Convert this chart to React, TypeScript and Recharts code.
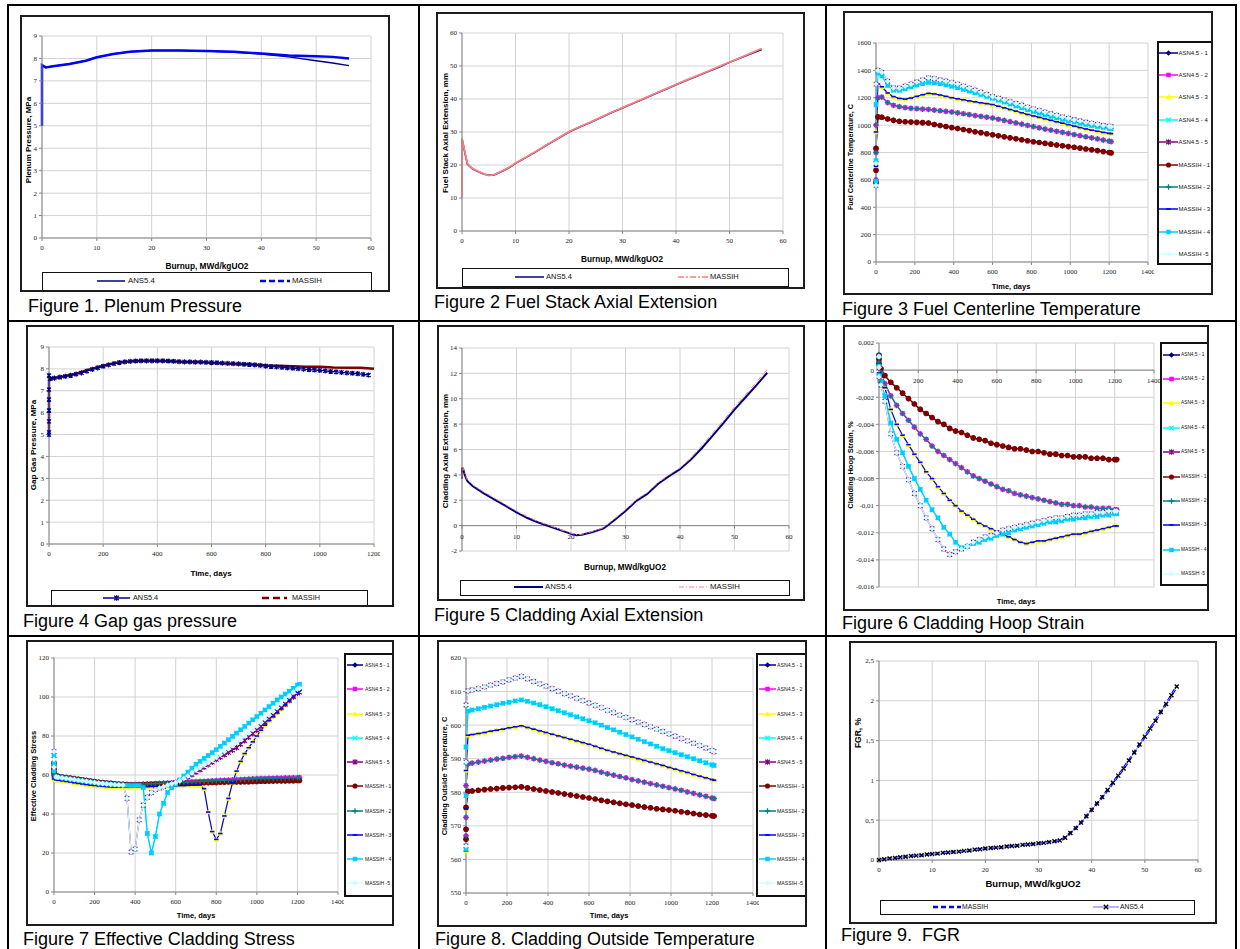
import { Fragment } from 'react'
import { LineChart, Line, XAxis, YAxis, CartesianGrid, ReferenceLine } from 'recharts'

// Figure 1 – plenum pressure vs burnup
const burnup1 = [0, 0, 0.7, 2, 5, 8, 10, 13, 16, 20, 25, 30, 35, 40, 45, 50, 53, 56]
const plenumAns = [5, 7.7, 7.6, 7.65, 7.75, 7.9, 8.05, 8.2, 8.3, 8.35, 8.35, 8.33, 8.28, 8.2, 8.07, 7.9, 7.8, 7.68]
const plenumMassih = [5, 7.7, 7.6, 7.65, 7.75, 7.9, 8.05, 8.2, 8.3, 8.35, 8.35, 8.33, 8.3, 8.22, 8.13, 8.1, 8.07, 8.0]

// Figure 2 – fuel stack axial extension
const burnup2 = [0, 0, 0.2, 0.5, 1, 1.5, 2, 3, 4, 5, 6, 7, 8, 9, 10, 12, 14, 16, 18, 20, 22, 24, 26, 28, 30, 32, 34, 36, 38, 40, 42, 44, 46, 48, 50, 52, 54, 56]
const stackAns = [27.8, 27.8, 26.5, 24, 20.3, 19.5, 18.8, 18, 17.3, 16.9, 17, 17.7, 18.5, 19.4, 20.5,
  22.3, 24.2, 26.2, 28.1, 30, 31.5, 32.9, 34.4, 35.9, 37.3, 38.7, 40.1, 41.5, 42.9, 44.3, 45.7, 47, 48.3, 49.6, 51.1, 52.4, 53.7, 55]
const stackMassih = [10, 28, 26.6, 24.2, 20.5, 19.6, 18.9, 18.1, 17.4, 16.8, 17.1, 17.8, 18.6, 19.5, 20.6,
  22.4, 24.3, 26.3, 28.2, 30.1, 31.6, 33, 34.5, 36, 37.4, 38.8, 40.2, 41.6, 43, 44.4, 45.8, 47.1, 48.4, 49.8, 51.2, 52.5, 53.9, 55.3]

// Figure 4 – gap gas pressure vs time
const days4 = [0, 0, 0, 0, 0, 0, 0, 5,
  20, 40, 60, 80, 100, 120, 140, 160, 180, 200,
  220, 240, 260, 280, 300, 320, 340, 360, 380, 400,
  420, 440, 460, 480, 500, 520, 540, 560, 580, 600,
  620, 640, 660, 680, 700, 720, 740, 760, 780, 800,
  820, 840, 860, 880, 900, 920, 940, 960, 980, 1000,
  1020, 1040, 1060, 1080, 1100, 1120, 1140, 1160, 1180]
const gapAns = [5.0, 5.1, 5.6, 6.1, 6.6, 7.05, 7.7, 7.55,
  7.58, 7.62, 7.66, 7.7, 7.76, 7.82, 7.9, 7.98, 8.05, 8.12,
  8.18, 8.24, 8.29, 8.32, 8.34, 8.36, 8.37, 8.37, 8.37, 8.37,
  8.37, 8.36, 8.35, 8.33, 8.32, 8.32, 8.31, 8.31, 8.3, 8.29,
  8.28, 8.26, 8.25, 8.24, 8.23, 8.21, 8.2, 8.18, 8.16, 8.13,
  8.11, 8.09, 8.07, 8.05, 8.03, 8.01, 7.99, 7.97, 7.95, 7.93,
  7.91, 7.88, 7.86, 7.84, 7.82, 7.8, 7.78, 7.75, 7.72]
const days4m = [0, 0, 5, 50, 100, 150, 200, 250, 300, 350, 400, 450, 500, 550, 600, 650, 700, 750, 800, 850, 900, 950, 1000, 1050, 1100, 1150, 1200]
const gapMassih = [5.0, 7.6, 7.55, 7.65, 7.78, 7.98, 8.15, 8.28, 8.35, 8.37, 8.37, 8.35, 8.32, 8.32, 8.28, 8.25, 8.22, 8.2, 8.15, 8.14, 8.12, 8.1, 8.1, 8.06, 8.05, 8.05, 8.01]

// Figure 5 – cladding axial extension
const burnup5 = [0, 0, 0.2, 0.5, 1, 2, 4, 6, 8, 10, 12, 14, 16, 18, 20, 21, 22, 24, 26, 28, 30, 32, 34, 36, 38, 40, 42, 44, 46, 48, 50, 52, 54, 56]
const cladAns = [3.7, 4.5, 4.5, 4, 3.5, 3.1, 2.55, 2.05, 1.55, 1.05, 0.6, 0.25, -0.05, -0.35, -0.65, -0.75, -0.72, -0.5, -0.22, 0.45, 1.15, 1.95, 2.5, 3.3, 3.9, 4.45, 5.2, 6.1, 7.1, 8.1, 9.15, 10.1, 11.05, 12.05]
const cladMassih = [3.8, 4.6, 4.6, 4.1, 3.6, 3.2, 2.65, 2.15, 1.65, 1.15, 0.7, 0.32, 0.02, -0.3, -0.6, -0.7, -0.68, -0.45, -0.15, 0.55, 1.25, 2.05, 2.6, 3.4, 4, 4.55, 5.35, 6.3, 7.3, 8.3, 9.35, 10.3, 11.3, 12.3]

// Figure 9 – FGR (both models coincide)
const burnup9 = [0, 1, 2, 3, 4, 5, 6, 7, 8, 9, 10, 11, 12, 13, 14, 15, 16, 17, 18, 19, 20, 21, 22, 23, 24, 25, 26, 27, 28,
  29, 30, 31, 32, 33, 34, 35, 36, 37, 38, 39, 40, 41, 42, 43, 44, 45, 46, 47, 48, 49, 50, 51, 52, 53, 54, 55, 56]
const fgr = [0, 0.01, 0.02, 0.025, 0.035, 0.04, 0.05, 0.055, 0.06, 0.07,
  0.075, 0.08, 0.09, 0.095, 0.1, 0.105, 0.115, 0.12, 0.13, 0.135,
  0.145, 0.15, 0.155, 0.16, 0.17, 0.175, 0.18, 0.19, 0.195, 0.2,
  0.21, 0.215, 0.225, 0.235, 0.245, 0.28, 0.34, 0.4, 0.47, 0.55,
  0.63, 0.71, 0.79, 0.88, 0.97, 1.06, 1.15, 1.25, 1.35, 1.45,
  1.55, 1.65, 1.75, 1.86, 1.96, 2.07, 2.18]

// time grid shared by figures 3, 6, 8 (three start-up points at t=0)
const days = [0, 0, 0, 10,
  30, 60, 90, 120, 150, 180, 210, 240, 270,
  300, 330, 360, 390, 420, 450, 480, 510, 540, 570, 600,
  630, 660, 690, 720, 750, 780, 810, 840, 870, 900,
  930, 960, 990, 1020, 1050, 1080, 1110, 1140, 1170, 1200,
  1210]

// Figure 3 – fuel centerline temperature, cases 1..5
const fct1 = [580, 670, 830, 1060,
  1058, 1045, 1035, 1028, 1025, 1022, 1020, 1018, 1015,
  1005, 997, 990, 982, 975, 968, 960, 952, 945, 937, 930,
  922, 915, 907, 900, 893, 886, 879, 873, 867, 861,
  855, 849, 843, 838, 832, 826, 820, 814, 807, 800,
  797]
const fct2 = [600, 800, 1000, 1200,
  1205, 1165, 1145, 1135, 1128, 1123, 1120, 1117, 1115,
  1110, 1105, 1100, 1096, 1090, 1083, 1077, 1070, 1064, 1058, 1052,
  1043, 1034, 1025, 1016, 1007, 998, 989, 980, 971, 963,
  955, 947, 939, 931, 923, 915, 907, 899, 891, 883,
  880]
const fct3 = [570, 700, 950, 1300,
  1280, 1235, 1208, 1195, 1190, 1198, 1210, 1222, 1232,
  1228, 1220, 1210, 1200, 1192, 1185, 1177, 1170, 1163, 1157, 1150,
  1138, 1126, 1114, 1102, 1090, 1078, 1067, 1057, 1046, 1035,
  1024, 1014, 1003, 993, 982, 972, 963, 955, 947, 940,
  938]
const fct4 = [590, 740, 1150, 1380,
  1360, 1290, 1255, 1255, 1265, 1280, 1292, 1303, 1312,
  1308, 1302, 1294, 1284, 1273, 1261, 1249, 1237, 1224, 1210, 1196,
  1182, 1168, 1154, 1140, 1126, 1113, 1100, 1088, 1076, 1064,
  1053, 1042, 1032, 1023, 1014, 1005, 997, 990, 983, 977,
  975]
const fct5 = [560, 720, 1300, 1400,
  1385, 1320, 1272, 1270, 1285, 1300, 1315, 1330, 1345,
  1340, 1330, 1321, 1311, 1300, 1285, 1270, 1255, 1240, 1224, 1208,
  1196, 1184, 1171, 1158, 1145, 1132, 1119, 1107, 1095, 1083,
  1071, 1060, 1049, 1039, 1030, 1021, 1013, 1005, 997, 991,
  989]

// Figure 6 – cladding hoop strain, cases 1..5
const hoop1 = [0.0011, 0.0008, 0.0005, 0.0001,
  -0.0004, -0.0009, -0.0013, -0.0017, -0.0021, -0.0025, -0.0029, -0.0032, -0.0035,
  -0.0038, -0.004, -0.0043, -0.0045, -0.0046, -0.0048, -0.005, -0.0051, -0.0052, -0.0054, -0.0055,
  -0.0056, -0.0057, -0.0058, -0.0058, -0.0059, -0.006, -0.006, -0.0061, -0.0062, -0.0062,
  -0.0063, -0.0063, -0.0064, -0.0064, -0.0064, -0.0065, -0.0065, -0.0065, -0.0066, -0.0066,
  -0.0066]
const hoop2 = [0.0011, 0.0006, 0.0002, -0.0002,
  -0.001, -0.0019, -0.0026, -0.0032, -0.0037, -0.0042, -0.0047, -0.0051, -0.0056,
  -0.006, -0.0063, -0.0066, -0.0069, -0.0072, -0.0075, -0.0078, -0.008, -0.0082, -0.0084, -0.0086,
  -0.0088, -0.0089, -0.0091, -0.0092, -0.0093, -0.0094, -0.0095, -0.0096, -0.0097, -0.0098,
  -0.0099, -0.0099, -0.01, -0.01, -0.0101, -0.0101, -0.0102, -0.0102, -0.0102, -0.0103,
  -0.0103]
const hoop3 = [0.0011, 0.0004, -0.0002, -0.0005,
  -0.0013, -0.0029, -0.004, -0.0048, -0.0055, -0.0062, -0.0068, -0.0075, -0.008,
  -0.0086, -0.0091, -0.0096, -0.01, -0.0104, -0.0107, -0.011, -0.0113, -0.0115, -0.0117, -0.0119,
  -0.0121, -0.0123, -0.0125, -0.0127, -0.0128, -0.0127, -0.0126, -0.0126, -0.0125, -0.0124,
  -0.0123, -0.0122, -0.0121, -0.0121, -0.012, -0.0119, -0.0118, -0.0117, -0.0116, -0.0115,
  -0.0115]
const hoop4 = [0.001, 0.0003, -0.0004, -0.0009,
  -0.0019, -0.0039, -0.0051, -0.0061, -0.0071, -0.008, -0.0088, -0.0096, -0.0103,
  -0.0109, -0.0116, -0.0121, -0.0127, -0.0131, -0.013, -0.0128, -0.0127, -0.0125, -0.0124, -0.0122,
  -0.0121, -0.012, -0.0118, -0.0117, -0.0116, -0.0115, -0.0114, -0.0113, -0.0112, -0.0112,
  -0.0111, -0.011, -0.011, -0.0109, -0.0109, -0.0108, -0.0108, -0.0107, -0.0107, -0.0106,
  -0.0106]
const hoop5 = [0.001, 0.0002, -0.0005, -0.0011,
  -0.0023, -0.0047, -0.0061, -0.0071, -0.0081, -0.0091, -0.01, -0.0109, -0.0117,
  -0.0125, -0.0132, -0.0136, -0.0134, -0.0132, -0.013, -0.0127, -0.0125, -0.0123, -0.0122, -0.012,
  -0.0118, -0.0117, -0.0116, -0.0115, -0.0114, -0.0113, -0.0112, -0.0111, -0.011, -0.0109,
  -0.0109, -0.0108, -0.0107, -0.0107, -0.0106, -0.0106, -0.0105, -0.0105, -0.0104, -0.0104,
  -0.0104]

// Figure 8 – cladding outside temperature, cases 1..5
const cot1 = [566, 569, 575.5, 580.3,
  580.4, 580.6, 580.8, 581, 581.1, 581.3, 581.4, 581.5, 581.6,
  581.3, 581, 580.7, 580.4, 580.1, 579.8, 579.5, 579.2, 578.9, 578.6, 578.3,
  578, 577.6, 577.3, 577, 576.7, 576.4, 576.2, 575.9, 575.6, 575.4,
  575.1, 574.9, 574.7, 574.5, 574.2, 574, 573.7, 573.4, 573.2, 573,
  572.9]
const cot2 = [567, 572.5, 582, 588.5,
  588.7, 589, 589.3, 589.6, 589.9, 590.1, 590.4, 590.6, 590.8,
  590.4, 590, 589.6, 589.2, 588.8, 588.5, 588.1, 587.8, 587.5, 587.2, 586.9,
  586.5, 586, 585.5, 585.1, 584.7, 584.3, 583.8, 583.4, 583, 582.6,
  582.2, 581.8, 581.4, 581, 580.6, 580.1, 579.7, 579.2, 578.8, 578.3,
  578.1]
const cot3 = [562.5, 575, 586.5, 597,
  597.2, 597.5, 597.8, 598.2, 598.5, 598.8, 599.2, 599.5, 599.8,
  599.3, 598.8, 598.3, 597.8, 597.3, 596.8, 596.3, 595.8, 595.3, 594.8, 594.3,
  593.7, 593.1, 592.5, 592, 591.5, 591, 590.5, 590, 589.5, 589,
  588.5, 588, 587.4, 586.9, 586.4, 585.9, 585.3, 584.8, 584.3, 583.8,
  583.6]
const cot4 = [563, 579, 593.5, 604.2,
  604.5, 604.9, 605.3, 605.7, 606.1, 606.5, 606.8, 607.2, 607.5,
  607.1, 606.6, 606.1, 605.5, 604.9, 604.3, 603.7, 603.1, 602.5, 601.9, 601.3,
  600.7, 600, 599.3, 598.6, 597.9, 597.2, 596.5, 595.8, 595.1, 594.4,
  593.7, 593, 592.4, 591.8, 591.2, 590.6, 590, 589.4, 588.8, 588.2,
  588]
const cot5 = [564, 589, 606, 610.2,
  610.5, 610.9, 611.4, 611.9, 612.4, 612.9, 613.5, 614, 614.5,
  613.8, 613, 612.3, 611.6, 610.9, 610.1, 609.4, 608.7, 608, 607.3, 606.6,
  605.9, 605.2, 604.4, 603.7, 603, 602.3, 601.6, 600.9, 600.2, 599.5,
  598.8, 598.1, 597.4, 596.7, 596, 595.3, 594.6, 593.9, 593.2, 592.4,
  592.1]

// Figure 7 – effective cladding stress (finer grid for the dips)
const days7 = [0, 0, 0, 10,
  20, 40, 60, 80, 100, 120, 140, 160, 180, 200,
  220, 240, 260, 280, 300, 320, 340, 360, 380, 400,
  420, 440, 460, 480, 500, 520, 540, 560, 580, 600,
  620, 640, 660, 680, 700, 720, 740, 760, 780, 800,
  820, 840, 860, 880, 900, 920, 940, 960, 980, 1000,
  1020, 1040, 1060, 1080, 1100, 1120, 1140, 1160, 1180, 1200,
  1210]
const ecs1 = [66, 63, 61, 59.5,
  59.3, 59, 58.7, 58.4, 58.1, 57.8, 57.5, 57.2, 56.9, 56.6,
  56.3, 56.1, 55.9, 55.7, 55.5, 55.3, 55.2, 55.1, 55, 55,
  55, 55.1, 55.1, 55.2, 55.3, 55.3, 55.4, 55.5, 55.5, 55.6,
  55.7, 55.7, 55.8, 55.9, 55.9, 56, 56.1, 56.1, 56.2, 56.2,
  56.3, 56.3, 56.4, 56.4, 56.5, 56.5, 56.6, 56.6, 56.7, 56.7,
  56.8, 56.8, 56.9, 56.9, 57, 57, 57, 57.1, 57.1, 57.2,
  57.2]
const ecs2 = [64, 62, 60, 59.5,
  59.3, 59, 58.7, 58.4, 58.1, 57.8, 57.5, 57.2, 56.9, 56.6,
  56.3, 56.1, 55.9, 55.7, 55.5, 55.3, 55.2, 55.1, 55.1, 55.1,
  55.2, 55.3, 55.4, 55.5, 55.6, 55.7, 55.8, 55.9, 56, 56.1,
  56.2, 56.3, 56.4, 56.5, 56.6, 56.7, 56.8, 56.9, 57, 57.1,
  57.2, 57.3, 57.4, 57.5, 57.6, 57.7, 57.8, 57.9, 58, 58.1,
  58.2, 58.2, 58.3, 58.3, 58.4, 58.4, 58.5, 58.5, 58.6, 58.6,
  58.7]
const ecs3 = [62, 59, 58, 57.5,
  57.3, 57, 56.7, 56.4, 56, 55.7, 55.4, 55.1, 54.8, 54.6,
  54.4, 54.2, 54, 53.9, 53.8, 53.8, 53.8, 53.8, 53.8, 53.8,
  53.9, 54, 54, 54.1, 54.2, 54.2, 54.3, 54.4, 54.4, 54.5,
  54.6, 54.6, 54.7, 54.8, 54.8, 54.9, 53, 41, 31, 27,
  30, 39, 48, 56, 62, 67, 71, 74, 77, 80,
  83, 85.5, 88, 90, 92, 94, 96, 98, 100, 102.5,
  103.5]
const ecs4 = [70, 66, 62, 59,
  58.8, 58.5, 58.2, 57.9, 57.6, 57.3, 57, 56.7, 56.4, 56.1,
  55.8, 55.6, 55.4, 55.2, 55, 54.9, 54.8, 54.7, 54.6, 54.6,
  54.6, 53.6, 30, 20, 28.5, 40, 45.5, 51, 53.5, 55.3,
  57.5, 59.5, 61.5, 63.5, 65.5, 67, 68.5, 70, 71.5, 73,
  74.7, 76.4, 78.1, 79.8, 81.5, 83.2, 84.9, 86.6, 88.3, 90,
  91.7, 93.4, 95.1, 96.8, 98.5, 100, 101.5, 103, 104.5, 106,
  106.5]
const ecs5 = [72, 68, 64, 59,
  58.8, 58.5, 58.2, 57.9, 57.6, 57.3, 57, 56.7, 56.4, 56.1,
  55.8, 55.6, 55.4, 55.2, 55, 54.9, 54.8, 48, 20.5, 22,
  37, 44.5, 48.5, 51, 52.5, 53.3, 54, 54.8, 55.5, 56.1,
  57, 58.2, 59.5, 61, 62.5, 63.8, 65, 66.3, 67.6, 69,
  70.5, 72, 73.5, 75, 76.7, 78.3, 80, 81.6, 83.3, 85,
  86.9, 88.8, 90.7, 92.6, 94.5, 96.5, 98.5, 100.5, 102.5, 104,
  104.5]
// ASN4.5 - 5 separates below MASSIH -5 after ~650 days
const ecs5asn = [72, 68, 64, 59,
  58.8, 58.5, 58.2, 57.9, 57.6, 57.3, 57, 56.7, 56.4, 56.1,
  55.8, 55.6, 55.4, 55.2, 55, 54.9, 54.8, 48, 20.5, 22,
  37, 44.5, 48.5, 51, 52.5, 53.3, 54, 54.8, 55.5, 56.1,
  56.8, 57.8, 59, 60.2, 61.5, 62.7, 64, 65.3, 66.6, 68,
  69.2, 70.4, 71.6, 72.8, 74, 75.8, 77.6, 79.4, 81.2, 83,
  84.9, 86.8, 88.7, 90.6, 92.5, 94.4, 96.3, 98.2, 100.1, 102,
  102.5]

const caseNames = ['ASN4.5 - 1', 'ASN4.5 - 2', 'ASN4.5 - 3', 'ASN4.5 - 4', 'ASN4.5 - 5', 'MASSIH - 1', 'MASSIH - 2', 'MASSIH - 3', 'MASSIH - 4', 'MASSIH -5']
const caseColors = ['#000080', '#ff00ff', '#ffff00', '#00ffff', '#800080', '#800000', '#008080', '#0000ff', '#00ccff', '#ccffff']
const caseShapes: Shape[] = ['diamond', 'square', 'triangle', 'x', 'star', 'circle', 'plus', 'dash', 'square', 'diamond']
const caseGroup = [0, 1, 2, 3, 4, 0, 1, 2, 3, 4]

const ticks = {
  burnup: [0, 10, 20, 30, 40, 50, 60],
  time1400: [0, 200, 400, 600, 800, 1000, 1200, 1400],
  time1200: [0, 200, 400, 600, 800, 1000, 1200],
  pressure: [0, 1, 2, 3, 4, 5, 6, 7, 8, 9],
  stack: [0, 10, 20, 30, 40, 50, 60],
  fct: [0, 200, 400, 600, 800, 1000, 1200, 1400, 1600],
  clad: [-2, 0, 2, 4, 6, 8, 10, 12, 14],
  hoop: [-0.016, -0.014, -0.012, -0.01, -0.008, -0.006, -0.004, -0.002, 0, 0.002],
  stress: [0, 20, 40, 60, 80, 100, 120],
  cot: [550, 560, 570, 580, 590, 600, 610, 620],
  fgr: [0, 0.5, 1, 1.5, 2, 2.5],
}

type Shape = 'diamond' | 'square' | 'triangle' | 'x' | 'star' | 'circle' | 'plus' | 'dash'
type Pt = { x: number; y: number }
type Series = { name: string; data: Pt[]; color: string; width: number; dash?: string; shape?: Shape; mcolor?: string; msize?: number }
type LegendItem = { label: string; color: string; width: number; dash?: string; shape?: Shape; mcolor?: string; x1: number; x2: number; tx: number; y: number }
type Box = [number, number, number, number]
type Spec = {
  box: Box
  plot: Box
  xDomain: [number, number]
  xTicks: number[]
  yDomain: [number, number]
  yTicks: number[]
  yFmt?: (v: number) => string
  zeroAxis?: boolean
  series: Series[]
  xTitle: string
  xTitleAt: [number, number]
  xTitleSize: number
  yTitle: string
  yTitleAt: [number, number]
  yTitleSize: number
  legendBox: Box
  legendBorder: number
  legendFont: number
  legend: LegendItem[]
}

const sans = '"Liberation Sans", Arial, sans-serif'
const serif = '"Liberation Serif", "Times New Roman", serif'
const axisGray = '#868686'
const BW = 2
const PADL = 38
const PADT = 6
const PADR = 6
const PADB = 22

const rows = (xs: number[], ys: number[]): Pt[] =>
  xs.map((x, i) => ({ x, y: ys[i] })).filter((r) => r.y !== undefined)

const comma = (v: number) => String(v).replace('.', ',')

function Marker({ cx, cy, shape, color, size }: { cx: number; cy: number; shape: Shape; color: string; size: number }) {
  const h = size / 2
  const k = h + 0.6
  switch (shape) {
    case 'diamond':
      return <polygon points={`${cx},${cy - k} ${cx + k},${cy} ${cx},${cy + k} ${cx - k},${cy}`} fill={color} />
    case 'square':
      return <rect x={cx - h} y={cy - h} width={size} height={size} fill={color} />
    case 'triangle':
      return <polygon points={`${cx},${cy - k} ${cx + k},${cy + h} ${cx - k},${cy + h}`} fill={color} />
    case 'x':
      return <path d={`M${cx - h},${cy - h}L${cx + h},${cy + h}M${cx - h},${cy + h}L${cx + h},${cy - h}`} stroke={color} strokeWidth={1.3} />
    case 'star':
      return <path d={`M${cx - h},${cy - h}L${cx + h},${cy + h}M${cx - h},${cy + h}L${cx + h},${cy - h}M${cx},${cy - k}L${cx},${cy + k}`} stroke={color} strokeWidth={1.2} />
    case 'circle':
      return <circle cx={cx} cy={cy} r={h + 0.3} fill={color} />
    case 'plus':
      return <path d={`M${cx - k},${cy}L${cx + k},${cy}M${cx},${cy - k}L${cx},${cy + k}`} stroke={color} strokeWidth={1.3} />
    default:
      return <rect x={cx - h} y={cy - 0.8} width={size} height={1.6} fill={color} />
  }
}

const caseSeries = (xs: number[], groups: number[][], own: Record<number, number[]> = {}): Series[] =>
  caseNames.map((name, i) => ({
    name,
    data: rows(xs, own[i] ?? groups[caseGroup[i]]),
    color: caseColors[i],
    width: 1.2,
    shape: caseShapes[i],
    msize: caseShapes[i] === 'circle' ? 5 : 4.5,
  }))

const caseLegend = (x1: number, x2: number, tx: number, y0: number, step: number): LegendItem[] =>
  caseNames.map((label, i) => ({ label, color: caseColors[i], width: 1.5, shape: caseShapes[i], x1, x2, tx, y: y0 + i * step }))

function Panel({ spec }: { spec: Spec }) {
  const [bl, bt, br, bb] = spec.box
  const [pl, pt, pr, pb] = spec.plot
  const ox = bl + BW
  const oy = bt + BW
  const pw = pr - pl
  const ph = pb - pt
  const [y0, y1] = spec.yDomain
  const zy = PADT + (ph * (y1 - 0)) / (y1 - y0)
  const tickStyle = { fontSize: 7, fill: '#1a1a1a', fontFamily: serif }
  const zeroTick = (p: any) => (
    <g key={`t-${p.index}`}>
      <line x1={p.x} x2={p.x} y1={zy} y2={zy + 3} stroke={axisGray} />
      <text x={p.x} y={zy + 13} textAnchor="middle" fontSize={7} fontFamily={serif} fill="#1a1a1a">
        {p.payload.value}
      </text>
    </g>
  )
  const [lbl, lbt, lbr, lbb] = spec.legendBox
  return (
    <div
      style={{
        position: 'absolute', left: bl, top: bt, width: br - bl, height: bb - bt,
        border: `${BW}px solid #1c1c1c`, boxSizing: 'border-box', overflow: 'hidden', background: '#fff',
      }}
    >
      <div style={{ position: 'absolute', left: pl - ox - PADL, top: pt - oy - PADT }}>
        <LineChart width={pw + PADL + PADR} height={ph + PADT + PADB} margin={{ top: PADT, right: PADR, bottom: 0, left: 0 }}>
          <CartesianGrid stroke="#d2d2d2" />
          <XAxis
            type="number" dataKey="x" domain={spec.xDomain} ticks={spec.xTicks} interval={0} height={PADB}
            tick={spec.zeroAxis ? zeroTick : tickStyle} tickSize={3} tickMargin={4}
            axisLine={spec.zeroAxis ? false : { stroke: axisGray }} tickLine={spec.zeroAxis ? false : { stroke: axisGray }}
          />
          <YAxis
            type="number" domain={spec.yDomain} ticks={spec.yTicks} interval={0} width={PADL}
            tick={tickStyle} tickSize={3} tickMargin={2} tickFormatter={spec.yFmt}
            axisLine={{ stroke: axisGray }} tickLine={{ stroke: axisGray }}
          />
          {spec.zeroAxis && <ReferenceLine y={0} stroke={axisGray} />}
          {spec.series.map((s) => (
            <Line
              key={s.name} data={s.data} dataKey="y" type="linear" stroke={s.color} strokeWidth={s.width}
              strokeDasharray={s.dash} activeDot={false} isAnimationActive={false} legendType="none"
              dot={
                s.shape
                  ? (p: any) =>
                      p.cx == null || p.cy == null ? (
                        <g key={`${s.name}-${p.index}`} />
                      ) : (
                        <Marker key={`${s.name}-${p.index}`} cx={p.cx} cy={p.cy} shape={s.shape as Shape} color={s.mcolor ?? s.color} size={s.msize ?? 4.5} />
                      )
                  : false
              }
            />
          ))}
        </LineChart>
      </div>
      <div
        style={{
          position: 'absolute', left: spec.xTitleAt[0] - ox, top: spec.xTitleAt[1] - oy, transform: 'translate(-50%, -50%)',
          font: `bold ${spec.xTitleSize}px ${sans}`, whiteSpace: 'nowrap', color: '#000',
        }}
      >
        {spec.xTitle}
      </div>
      <div
        style={{
          position: 'absolute', left: spec.yTitleAt[0] - ox, top: spec.yTitleAt[1] - oy, transform: 'translate(-50%, -50%) rotate(-90deg)',
          font: `bold ${spec.yTitleSize}px ${sans}`, whiteSpace: 'nowrap', color: '#000',
        }}
      >
        {spec.yTitle}
      </div>
      <div
        style={{
          position: 'absolute', left: lbl - ox, top: lbt - oy, width: lbr - lbl, height: lbb - lbt,
          border: `${spec.legendBorder}px solid #111`, boxSizing: 'border-box', background: '#fff',
        }}
      />
      {spec.legend.map((it) => (
        <Fragment key={it.label}>
          <svg style={{ position: 'absolute', left: it.x1 - ox, top: it.y - oy - 4 }} width={it.x2 - it.x1} height={8}>
            <line x1={0} y1={4} x2={it.x2 - it.x1} y2={4} stroke={it.color} strokeWidth={it.width} strokeDasharray={it.dash} />
            {it.shape && <Marker cx={(it.x2 - it.x1) / 2} cy={4} shape={it.shape} color={it.mcolor ?? it.color} size={4.5} />}
          </svg>
          <div
            style={{
              position: 'absolute', left: it.tx - ox, top: it.y - oy - 6, height: 12, lineHeight: '12px',
              fontSize: spec.legendFont, fontFamily: sans, color: '#111', whiteSpace: 'nowrap',
            }}
          >
            {it.label}
          </div>
        </Fragment>
      ))}
    </div>
  )
}

const specs: Spec[] = [
  {
    box: [20, 15, 390, 292], plot: [42, 36, 371, 238],
    xDomain: [0, 60], xTicks: ticks.burnup, yDomain: [0, 9], yTicks: ticks.pressure,
    series: [
      { name: 'ANS5.4', data: rows(burnup1, plenumAns), color: '#000080', width: 1.5 },
      { name: 'MASSIH', data: rows(burnup1, plenumMassih), color: '#0000ff', width: 2.5 },
    ],
    xTitle: 'Burnup, MWd/kgUO2', xTitleAt: [207, 266], xTitleSize: 8.3,
    yTitle: 'Plenum Pressure, MPa', yTitleAt: [28, 140], yTitleSize: 8,
    legendBox: [42, 272, 372, 291], legendBorder: 1.5, legendFont: 7.8,
    legend: [
      { label: 'ANS5.4', color: '#000080', width: 1.5, x1: 97, x2: 125, tx: 128, y: 281 },
      { label: 'MASSIH', color: '#0000ff', width: 2.5, dash: '6 3', x1: 260, x2: 290, tx: 292, y: 281 },
    ],
  },
  {
    box: [436, 12, 805, 289], plot: [462, 33, 783, 231],
    xDomain: [0, 60], xTicks: ticks.burnup, yDomain: [0, 60], yTicks: ticks.stack,
    series: [
      { name: 'ANS5.4', data: rows(burnup2, stackAns), color: '#000080', width: 1.6 },
      { name: 'MASSIH', data: rows(burnup2, stackMassih), color: '#ff7f7f', width: 1.8 },
    ],
    xTitle: 'Burnup, MWd/kgUO2', xTitleAt: [622, 259], xTitleSize: 8.2,
    yTitle: 'Fuel Stack Axial Extension, mm', yTitleAt: [445, 133], yTitleSize: 8,
    legendBox: [462, 268, 789, 287], legendBorder: 1.5, legendFont: 7.5,
    legend: [
      { label: 'ANS5.4', color: '#000080', width: 1.5, x1: 515, x2: 544, tx: 546, y: 277 },
      { label: 'MASSIH', color: '#ff7f7f', width: 1.5, dash: '6 2 2 2', x1: 678, x2: 708, tx: 710, y: 277 },
    ],
  },
  {
    box: [843, 11, 1213, 295], plot: [876, 43, 1148, 262],
    xDomain: [0, 1400], xTicks: ticks.time1400, yDomain: [0, 1600], yTicks: ticks.fct,
    series: caseSeries(days, [fct1, fct2, fct3, fct4, fct5]),
    xTitle: 'Time, days', xTitleAt: [1011, 286], xTitleSize: 7.5,
    yTitle: 'Fuel Centerline Temperature, C', yTitleAt: [850, 157], yTitleSize: 7.2,
    legendBox: [1157, 41, 1222, 265], legendBorder: 2, legendFont: 6,
    legend: caseLegend(1159, 1178, 1178.5, 52.7, 22.37),
  },
  {
    box: [26, 325, 394, 607], plot: [49, 347, 374, 544],
    xDomain: [0, 1200], xTicks: ticks.time1200, yDomain: [0, 9], yTicks: ticks.pressure,
    series: [
      { name: 'MASSIH', data: rows(days4m, gapMassih), color: '#800000', width: 2.5 },
      { name: 'ANS5.4', data: rows(days4, gapAns), color: '#000080', width: 1.3, shape: 'star', msize: 4 },
    ],
    xTitle: 'Time, days', xTitleAt: [211, 573], xTitleSize: 8,
    yTitle: 'Gap Gas Pressure, MPa', yTitleAt: [33, 445], yTitleSize: 8,
    legendBox: [51, 590, 368, 607], legendBorder: 1.5, legendFont: 7.3,
    legend: [
      { label: 'ANS5.4', color: '#000080', width: 1.5, shape: 'star', x1: 103, x2: 130, tx: 133, y: 598 },
      { label: 'MASSIH', color: '#800000', width: 2.5, dash: '7 4', x1: 262, x2: 287, tx: 292, y: 598 },
    ],
  },
  {
    box: [437, 325, 805, 601], plot: [462, 348, 789, 551],
    xDomain: [0, 60], xTicks: ticks.burnup, yDomain: [-2, 14], yTicks: ticks.clad, zeroAxis: true,
    series: [
      { name: 'ANS5.4', data: rows(burnup5, cladAns), color: '#000080', width: 2 },
      { name: 'MASSIH', data: rows(burnup5, cladMassih), color: '#ff8080', width: 1, dash: '5 2 1 2' },
    ],
    xTitle: 'Burnup, MWd/kgUO2', xTitleAt: [625, 567], xTitleSize: 8.2,
    yTitle: 'Cladding Axial Extension, mm', yTitleAt: [445, 451], yTitleSize: 8,
    legendBox: [460, 580, 790, 596], legendBorder: 1.5, legendFont: 7.8,
    legend: [
      { label: 'ANS5.4', color: '#000080', width: 2, x1: 514, x2: 543, tx: 545, y: 587 },
      { label: 'MASSIH', color: '#ff8080', width: 1, dash: '5 2 1 2', x1: 679, x2: 708, tx: 710, y: 587 },
    ],
  },
  {
    box: [843, 325, 1209, 611], plot: [879, 343, 1154, 587],
    xDomain: [0, 1400], xTicks: ticks.time1400, yDomain: [-0.016, 0.002], yTicks: ticks.hoop, yFmt: comma, zeroAxis: true,
    series: caseSeries(days, [hoop1, hoop2, hoop3, hoop4, hoop5]),
    xTitle: 'Time, days', xTitleAt: [1016, 601], xTitleSize: 7.5,
    yTitle: 'Cladding Hoop Strain, %', yTitleAt: [850, 465], yTitleSize: 7.5,
    legendBox: [1160, 342, 1218, 586], legendBorder: 2, legendFont: 4.8,
    legend: caseLegend(1163, 1180, 1181, 354.7, 24.37),
  },
  {
    box: [26, 640, 394, 926], plot: [54, 658, 338, 892],
    xDomain: [0, 1400], xTicks: ticks.time1400, yDomain: [0, 120], yTicks: ticks.stress,
    series: caseSeries(days7, [ecs1, ecs2, ecs3, ecs4, ecs5], { 4: ecs5asn }),
    xTitle: 'Time, days', xTitleAt: [196, 915], xTitleSize: 7.5,
    yTitle: 'Effective Cladding Stress', yTitleAt: [33, 776], yTitleSize: 7.5,
    legendBox: [344, 653, 400, 897], legendBorder: 2, legendFont: 5,
    legend: caseLegend(347, 363, 365, 665, 24.26),
  },
  {
    box: [437, 640, 807, 927], plot: [466, 658, 753, 893],
    xDomain: [0, 1400], xTicks: ticks.time1400, yDomain: [550, 620], yTicks: ticks.cot,
    series: caseSeries(days, [cot1, cot2, cot3, cot4, cot5]),
    xTitle: 'Time, days', xTitleAt: [609, 915], xTitleSize: 7.5,
    yTitle: 'Cladding Outside Temperature, C', yTitleAt: [444, 776], yTitleSize: 7.5,
    legendBox: [756, 653, 812, 897], legendBorder: 2, legendFont: 5.2,
    legend: caseLegend(759, 776, 777, 665, 24.26),
  },
  {
    box: [849, 641, 1217, 924], plot: [879, 661, 1198, 860],
    xDomain: [0, 60], xTicks: ticks.burnup, yDomain: [0, 2.5], yTicks: ticks.fgr, yFmt: comma,
    series: [
      { name: 'MASSIH', data: rows(burnup9, fgr), color: '#0000ff', width: 2.5, dash: '5 3' },
      { name: 'ANS5.4', data: rows(burnup9, fgr), color: '#8080ff', width: 1, shape: 'x', mcolor: '#000', msize: 4 },
    ],
    xTitle: 'Burnup, MWd/kgUO2', xTitleAt: [1033, 883], xTitleSize: 9.5,
    yTitle: 'FGR, %', yTitleAt: [858, 733], yTitleSize: 8.5,
    legendBox: [880, 900, 1195, 915], legendBorder: 1, legendFont: 6.8,
    legend: [
      { label: 'MASSIH', color: '#0000ff', width: 2.5, dash: '5 3', x1: 933, x2: 961, tx: 962, y: 907 },
      { label: 'ANS5.4', color: '#8080ff', width: 1.2, shape: 'x', mcolor: '#000', x1: 1093, x2: 1119, tx: 1120, y: 907 },
    ],
  },
]

const captions = [
  { text: 'Figure 1. Plenum Pressure', x: 28, y: 307 },
  { text: 'Figure 2 Fuel Stack Axial Extension', x: 434, y: 303 },
  { text: 'Figure 3 Fuel Centerline Temperature', x: 842, y: 310 },
  { text: 'Figure 4 Gap gas pressure', x: 23, y: 622 },
  { text: 'Figure 5 Cladding Axial Extension', x: 434, y: 616 },
  { text: 'Figure 6 Cladding Hoop Strain', x: 842, y: 624 },
  { text: 'Figure 7 Effective Cladding Stress', x: 23, y: 940 },
  { text: 'Figure 8. Cladding Outside Temperature', x: 435, y: 940 },
  { text: 'Figure 9.  FGR', x: 841, y: 936 },
]

// table rules: [left, top, width, height]
const rules: Box[] = [
  [7, 4, 1230, 2],
  [7, 4, 2, 945],
  [1235, 4, 2, 945],
  [418, 4, 2, 945],
  [825, 4, 2, 945],
  [7, 320, 1230, 2],
  [7, 635, 1230, 2],
]

export default function App() {
  return (
    <div style={{ position: 'relative', width: 1240, height: 949, overflow: 'hidden', background: '#fff' }}>
      <style>{'body{margin:0}'}</style>
      {rules.map(([l, t, w, h], i) => (
        <div key={i} style={{ position: 'absolute', left: l, top: t, width: w, height: h, background: '#000' }} />
      ))}
      {specs.map((s, i) => (
        <Panel key={i} spec={s} />
      ))}
      {captions.map((c) => (
        <div
          key={c.text}
          style={{
            position: 'absolute', left: c.x, top: c.y - 11, height: 22, lineHeight: '22px',
            font: `18px ${sans}`, color: '#000', whiteSpace: 'pre',
          }}
        >
          {c.text}
        </div>
      ))}
    </div>
  )
}
